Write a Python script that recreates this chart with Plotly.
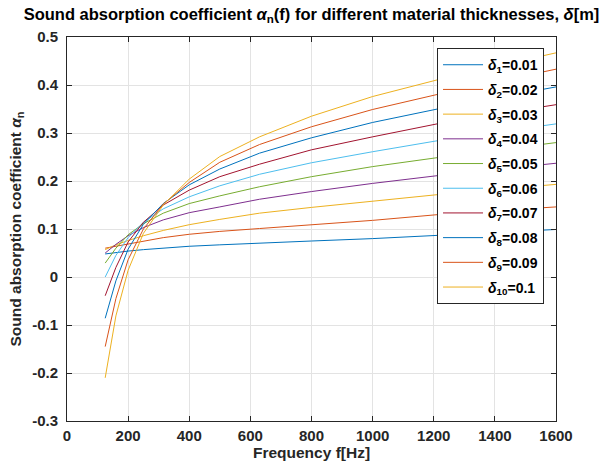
import plotly.graph_objects as go

freqs = [125, 160, 200, 250, 315, 400, 500, 630, 800, 1000, 1250, 1600]

alpha_d1 = [0.048, 0.051, 0.054, 0.057, 0.060, 0.064, 0.067, 0.071, 0.075, 0.080, 0.088, 0.099]
alpha_d2 = [0.060, 0.064, 0.069, 0.075, 0.082, 0.089, 0.095, 0.101, 0.109, 0.118, 0.132, 0.146]
alpha_d3 = [0.057, 0.067, 0.076, 0.086, 0.097, 0.109, 0.120, 0.133, 0.145, 0.158, 0.174, 0.193]
alpha_d4 = [0.050, 0.068, 0.086, 0.103, 0.119, 0.134, 0.146, 0.162, 0.178, 0.195, 0.214, 0.237]
alpha_d5 = [0.029, 0.060, 0.088, 0.111, 0.133, 0.153, 0.169, 0.188, 0.209, 0.230, 0.252, 0.280]
alpha_d6 = [0.000, 0.045, 0.082, 0.114, 0.142, 0.167, 0.190, 0.214, 0.238, 0.261, 0.288, 0.319]
alpha_d7 = [-0.039, 0.020, 0.073, 0.114, 0.150, 0.181, 0.209, 0.235, 0.265, 0.292, 0.324, 0.359]
alpha_d8 = [-0.086, -0.008, 0.058, 0.110, 0.153, 0.192, 0.225, 0.258, 0.290, 0.322, 0.355, 0.396]
alpha_d9 = [-0.145, -0.045, 0.036, 0.100, 0.152, 0.197, 0.239, 0.276, 0.313, 0.349, 0.386, 0.433]
alpha_d10 = [-0.210, -0.081, 0.014, 0.091, 0.150, 0.204, 0.251, 0.292, 0.335, 0.376, 0.417, 0.467]

series = [alpha_d1, alpha_d2, alpha_d3, alpha_d4, alpha_d5,
          alpha_d6, alpha_d7, alpha_d8, alpha_d9, alpha_d10]
series_names = [
    "<i>δ</i><sub>1</sub>=0.01", "<i>δ</i><sub>2</sub>=0.02", "<i>δ</i><sub>3</sub>=0.03",
    "<i>δ</i><sub>4</sub>=0.04", "<i>δ</i><sub>5</sub>=0.05", "<i>δ</i><sub>6</sub>=0.06",
    "<i>δ</i><sub>7</sub>=0.07", "<i>δ</i><sub>8</sub>=0.08", "<i>δ</i><sub>9</sub>=0.09",
    "<i>δ</i><sub>10</sub>=0.1",
]
colors = ["#0072BD", "#D95319", "#EDB120", "#7E2F8E", "#77AC30", "#4DBEEE", "#A2142F"]

x_tick_vals = [0, 200, 400, 600, 800, 1000, 1200, 1400, 1600]
x_tick_text = ["0", "200", "400", "600", "800", "1000", "1200", "1400", "1600"]
y_tick_vals = [-0.3, -0.2, -0.1, 0, 0.1, 0.2, 0.3, 0.4, 0.5]
y_tick_text = ["-0.3", "-0.2", "-0.1", "0", "0.1", "0.2", "0.3", "0.4", "0.5"]

FONT = "Liberation Sans, Arial, sans-serif"

fig = go.Figure()
for i, (vals, name) in enumerate(zip(series, series_names)):
    fig.add_trace(go.Scatter(
        x=freqs, y=vals, mode="lines", name=name, legendgroup=f"g{i}",
        line=dict(color=colors[i % len(colors)], width=1),
    ))

axis_common = dict(
    showline=True, linecolor="#262626", linewidth=1, mirror="ticks",
    ticks="inside", ticklen=5, tickcolor="#262626", tickwidth=1,
    showgrid=True, gridcolor="#E3E3E3", gridwidth=1, zeroline=False,
    tickfont=dict(family=FONT, size=15, color="#262626", weight="bold"),
)

fig.update_layout(
    width=601, height=473,
    margin=dict(l=67, r=45, t=37, b=52),
    paper_bgcolor="white", plot_bgcolor="white",
    font=dict(family=FONT, color="#262626"),
    title=dict(
        text="<b>Sound absorption coefficient <i>α</i><sub>n</sub>(f) for different material thicknesses, <i>δ</i>[m]</b>",
        x=0.5, xref="paper", xanchor="center",
        y=1 - 14 / 473, yref="container", yanchor="middle",
        font=dict(family=FONT, size=16.5, color="black"),
    ),
    xaxis=dict(range=[0, 1600], tickvals=x_tick_vals, ticktext=x_tick_text,
               title=dict(text="<b>Frequency f[Hz]</b>", font=dict(family=FONT, size=15.5, color="#262626"), standoff=3),
               ticklabelstandoff=1,
               **axis_common),
    yaxis=dict(range=[-0.3, 0.5], tickvals=y_tick_vals, ticktext=y_tick_text,
               title=dict(text="<b>Sound absorption coefficient <i>α</i><sub>n</sub></b>", font=dict(family=FONT, size=15.5, color="#262626"), standoff=6),
               ticklabelstandoff=5,
               **axis_common),
    legend=dict(
        x=0.9755, xanchor="right", y=0.971, yanchor="top",
        bgcolor="white", bordercolor="#262626", borderwidth=1,
        font=dict(family=FONT, size=14, color="black", weight="bold"),
        tracegroupgap=3.5, itemwidth=40,
    ),
    showlegend=True,
)

fig.write_html("out.html")
